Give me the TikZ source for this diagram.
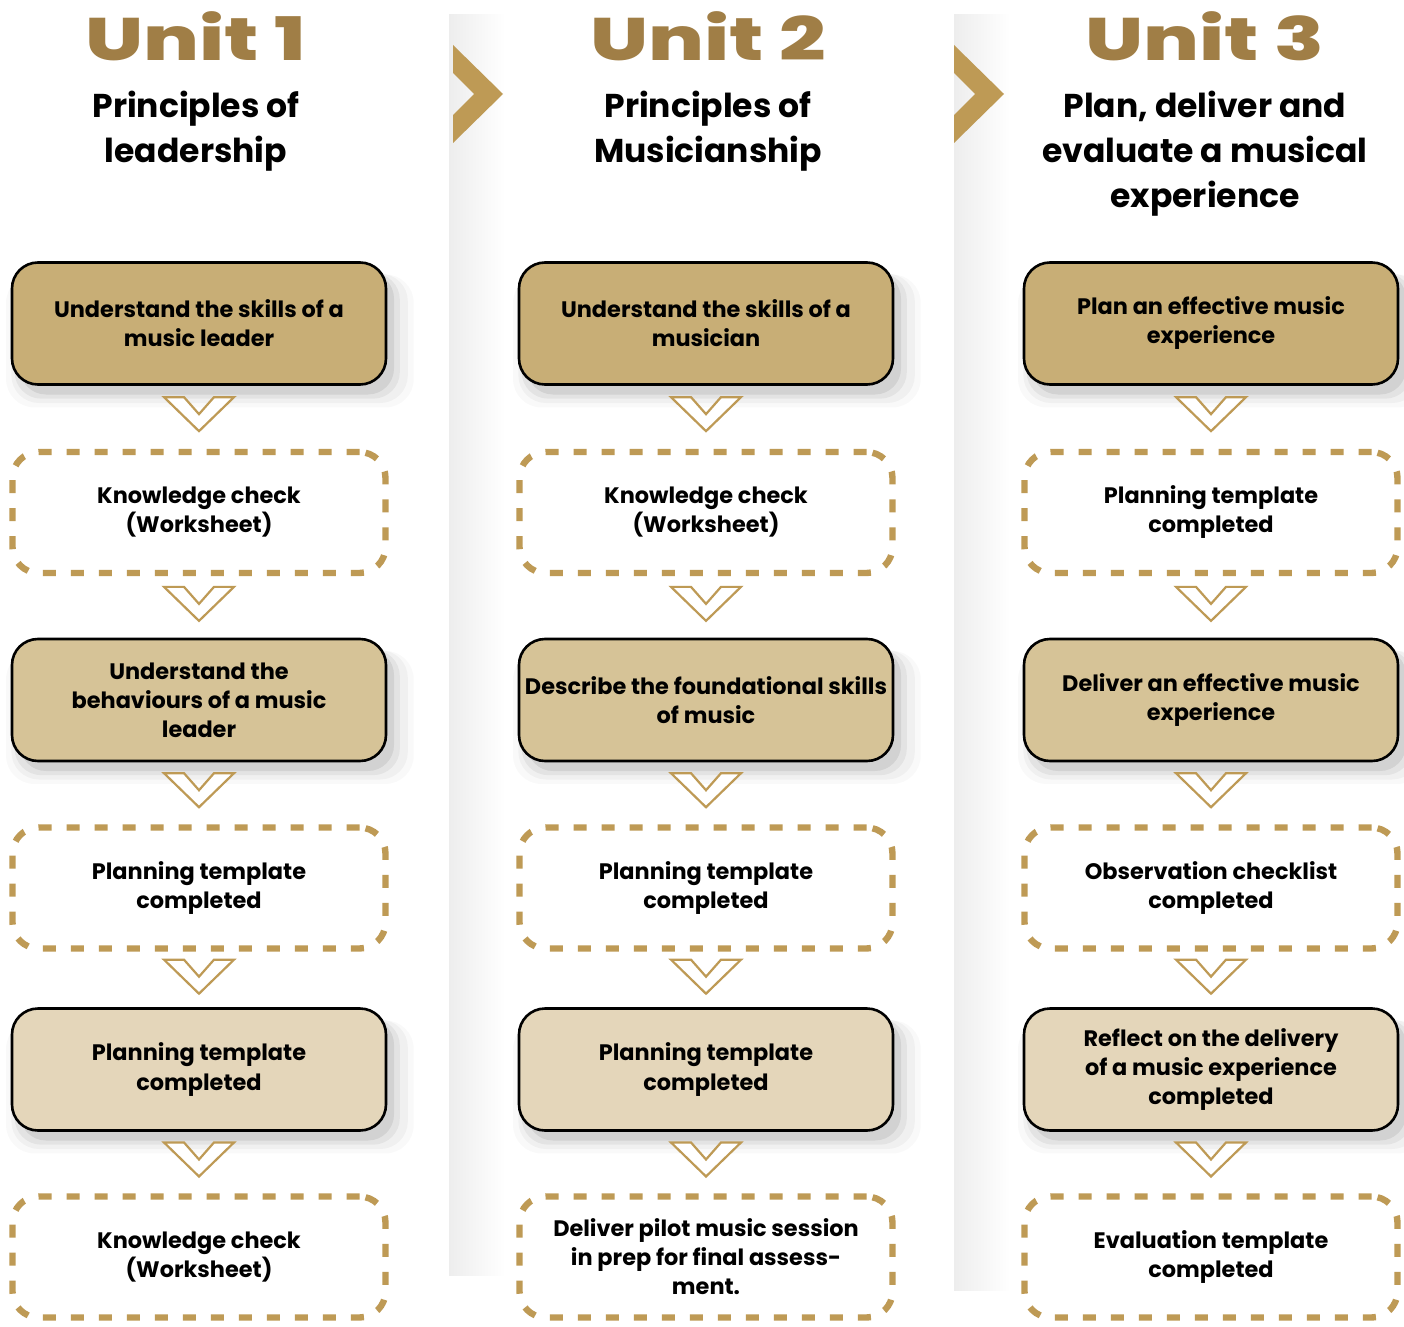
\documentclass[tikz,border=0pt]{standalone}
\usepackage{fontspec}
\setmainfont{Poppins}
\newfontfamily\unitfont{Poppins ExtraBold}
\newfontfamily\boxfont{Poppins SemiBold}
\newfontfamily\headfont{Poppins Bold}
\usetikzlibrary{shadows}
\definecolor{gold}{HTML}{BE9A55}
\definecolor{titlegold}{HTML}{A07E46}
\definecolor{tanA}{HTML}{C8AE76}
\definecolor{tanB}{HTML}{D6C397}
\definecolor{tanC}{HTML}{E4D6BA}
\tikzset{
  basebox/.style={rounded corners=13pt, minimum width=187pt, minimum height=61pt,
    align=center, inner sep=2pt, font=\headfont\fontsize{11.2}{14.5}\selectfont},
  filledbox/.style={basebox, draw=black, line width=1.3pt,
    drop shadow={shadow xshift=4pt,shadow yshift=-5pt,opacity=.07,fill=black},
    drop shadow={shadow xshift=4pt,shadow yshift=-6pt,shadow scale=1.03,opacity=.05,fill=black},
    drop shadow={shadow xshift=5pt,shadow yshift=-7pt,shadow scale=1.06,opacity=.035,fill=black},
    drop shadow={shadow xshift=5pt,shadow yshift=-8pt,shadow scale=1.09,opacity=.025,fill=black}},
  dashbox/.style={basebox, minimum width=186.5pt, minimum height=60.5pt, draw=gold,
    line width=3.2pt, dash pattern=on 6.5pt off 7.5pt, fill=white},
  unittitle/.style={text=titlegold, font=\unitfont\fontsize{30}{30}\selectfont, inner sep=0pt},
  subtitle/.style={anchor=north, align=center, inner sep=0pt,
    font=\headfont\fontsize{16.5}{22.5}\selectfont},
  downchev/.pic={\draw[gold, line width=1.1pt, fill=white, line join=miter]
    (-35,-17)--(-15,-17)--(0,0)--(15,-17)--(35,-17)--(0,17)--cycle;},
  bigchev/.pic={\fill[gold] (0,0)--(50,49)--(0,98)--(0,70)--(21,49)--(0,28)--cycle;}
}
\begin{document}
\begin{tikzpicture}[x=0.5pt,y=-0.5pt]
\fill[white] (0,0) rectangle (1404,1327);
\useasboundingbox (0,0) rectangle (1404,1327);
% column panels
\shade[left color=black!7, right color=white] (449,15) rectangle (505,1275);
\shade[left color=black!7, right color=white] (954,15) rectangle (1010,1290);
% big chevrons
\pic at (453,45) {bigchev};
\pic at (954,45) {bigchev};
% titles
\node[unittitle] (u1) at (196,36) {\scalebox{1.36}[1]{Unit 1}};
\node[unittitle] (u2) at (708,36) {\scalebox{1.36}[1]{Unit 2}};
\node[unittitle] (u3) at (1205,36) {\scalebox{1.36}[1]{Unit 3}};
\node[subtitle] (s1) at (196,91) {Principles of\\leadership};
\node[subtitle] (s2) at (708,91) {Principles of\\Musicianship};
\node[subtitle] (s3) at (1205,91) {Plan, deliver and\\evaluate a musical\\experience};
% column 1
\node[filledbox, fill=tanA] (a1) at (199,323.5) {Understand the skills of a\\music leader};
\node[dashbox] (a2) at (199,512.5) {Knowledge check\\(Worksheet)};
\node[filledbox, fill=tanB] (a3) at (199,700) {Understand the\\behaviours of a music\\leader};
\node[dashbox] (a4) at (199,888) {Planning template\\completed};
\node[filledbox, fill=tanC] (a5) at (199,1069.5) {Planning template\\completed};
\node[dashbox] (a6) at (199,1257) {Knowledge check\\(Worksheet)};
% column 2
\node[filledbox, fill=tanA] (b1) at (706,323.5) {Understand the skills of a\\musician};
\node[dashbox] (b2) at (706,512.5) {Knowledge check\\(Worksheet)};
\node[filledbox, fill=tanB] (b3) at (706,700) {Describe the foundational skills\\of music};
\node[dashbox] (b4) at (706,888) {Planning template\\completed};
\node[filledbox, fill=tanC] (b5) at (706,1069.5) {Planning template\\completed};
\node[dashbox] (b6) at (706,1257) {Deliver pilot music session\\in prep for final assess-\\ment.};
% column 3
\node[filledbox, fill=tanA] (c1) at (1211,323.5) {Plan an effective music\\experience};
\node[dashbox] (c2) at (1211,512.5) {Planning template\\completed};
\node[filledbox, fill=tanB] (c3) at (1211,700) {Deliver an effective music\\experience};
\node[dashbox] (c4) at (1211,888) {Observation checklist\\completed};
\node[filledbox, fill=tanC] (c5) at (1211,1069.5) {Reflect on the delivery\\of a music experience\\completed};
\node[dashbox] (c6) at (1211,1257) {Evaluation template\\completed};
% chevron connectors
\foreach \c in {a,b,c}{
  \foreach \i/\j in {1/2,2/3,3/4,4/5,5/6}{
    \path (\c\i.south) -- (\c\j.north) pic[pos=0.45] {downchev};
  }
}
\end{tikzpicture}
\end{document}
